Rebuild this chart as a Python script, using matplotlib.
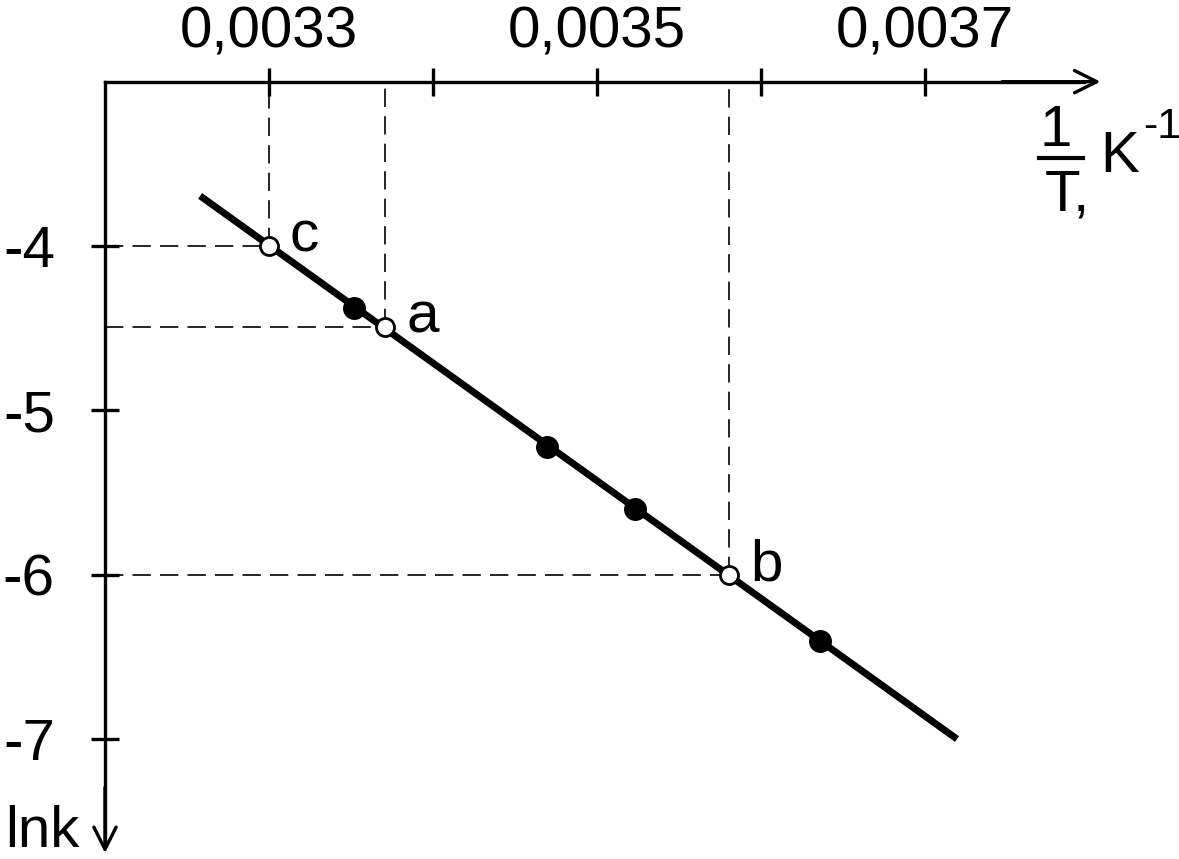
import numpy as np
import matplotlib.pyplot as plt

plt.rcParams['font.family'] = ['Liberation Sans', 'DejaVu Sans']

# данные графика lnk от 1/T
x_ticks = [0.0033, 0.0034, 0.0035, 0.0036, 0.0037]
x_tick_labels = ['0,0033', '', '0,0035', '', '0,0037']
y_ticks = [-4, -5, -6, -7]
y_tick_labels = ['-4', '-5', '-6', '-7']

line_x = [0.003258, 0.0037195]
line_y = [-3.695, -7.0]

filled_x = [0.003352, 0.0034695, 0.003523, 0.003636]
filled_y = [-4.378, -5.22, -5.598, -6.402]

open_x = [0.0033, 0.003371, 0.0035805]
open_y = [-4.0, -4.49, -6.0]
open_names = ['c', 'a', 'b']

x0, y0 = 0.0032, -3.0      # пересечение осей
x_end, y_end = 0.003807, -7.694

fig = plt.figure(figsize=(11.79, 8.59), dpi=100)
ax = fig.add_axes([0, 0, 1, 1])
ax.set_xlim(0.00313598, 0.00385488)
ax.set_ylim(-7.730, -2.503)

# оси
for s in ['bottom', 'right']:
    ax.spines[s].set_visible(False)
ax.spines['top'].set_position(('data', y0))
ax.spines['left'].set_position(('data', x0))
ax.spines['top'].set_bounds(x0, x_end - 0.00001)
ax.spines['left'].set_bounds(y_end + 0.05, y0)
for s in ['top', 'left']:
    ax.spines[s].set_linewidth(2.4)

ax.xaxis.set_ticks_position('top')
ax.set_xticks(x_ticks)
ax.set_xticklabels(x_tick_labels)
ax.set_yticks(y_ticks)
ax.set_yticklabels(y_tick_labels)
ax.tick_params(axis='both', direction='inout', length=20, width=2.4,
               labelsize=42, colors='black')
ax.tick_params(axis='x', pad=6)
ax.tick_params(axis='y', pad=26)

# стрелки
ax.annotate('', xy=(x_end, y0), xytext=(x_end - 0.00006, y0),
            arrowprops=dict(arrowstyle='->', lw=2.4, color='black',
                            mutation_scale=40, shrinkA=0, shrinkB=0))
ax.annotate('', xy=(x0, y_end), xytext=(x0, y_end + 0.4),
            arrowprops=dict(arrowstyle='->', lw=2.4, color='black',
                            mutation_scale=40, shrinkA=0, shrinkB=0))

# пунктирные проекции
ax.vlines(open_x, open_y, y0, colors='black', linestyles=(0, (11, 5.5)), lw=1.2)
ax.hlines(open_y, x0, open_x, colors='black', linestyles=(0, (11, 5.5)), lw=1.2)

# прямая и точки
ax.plot(line_x, line_y, color='black', lw=5, solid_capstyle='butt')
ax.plot(filled_x, filled_y, 'o', color='black', ms=15.5)
ax.plot(open_x, open_y, 'o', mfc='white', mec='black', mew=2, ms=13)

for xv, yv, name in zip(open_x, open_y, open_names):
    ax.annotate(name, (xv, yv), xytext=(15, -4), textcoords='offset points',
                fontsize=42, ha='left', va='baseline')

# подписи осей
ax.text(0.0037799, -3.39, '1', fontsize=42, ha='center', va='baseline')
ax.plot([0.0037695, 0.0037963], [-3.4645, -3.4645], color='black', lw=3)
ax.text(0.0037732, -3.53, 'T,', fontsize=42, ha='left', va='top')
ax.text(0.0038067, -3.550, 'K', fontsize=42, ha='left', va='baseline')
ax.text(0.0038329, -3.343, '-1', fontsize=31, ha='left', va='baseline')
ax.text(0.0031390, -7.657, 'lnk', fontsize=42, ha='left', va='baseline')

fig.savefig('out.png', dpi=100)
